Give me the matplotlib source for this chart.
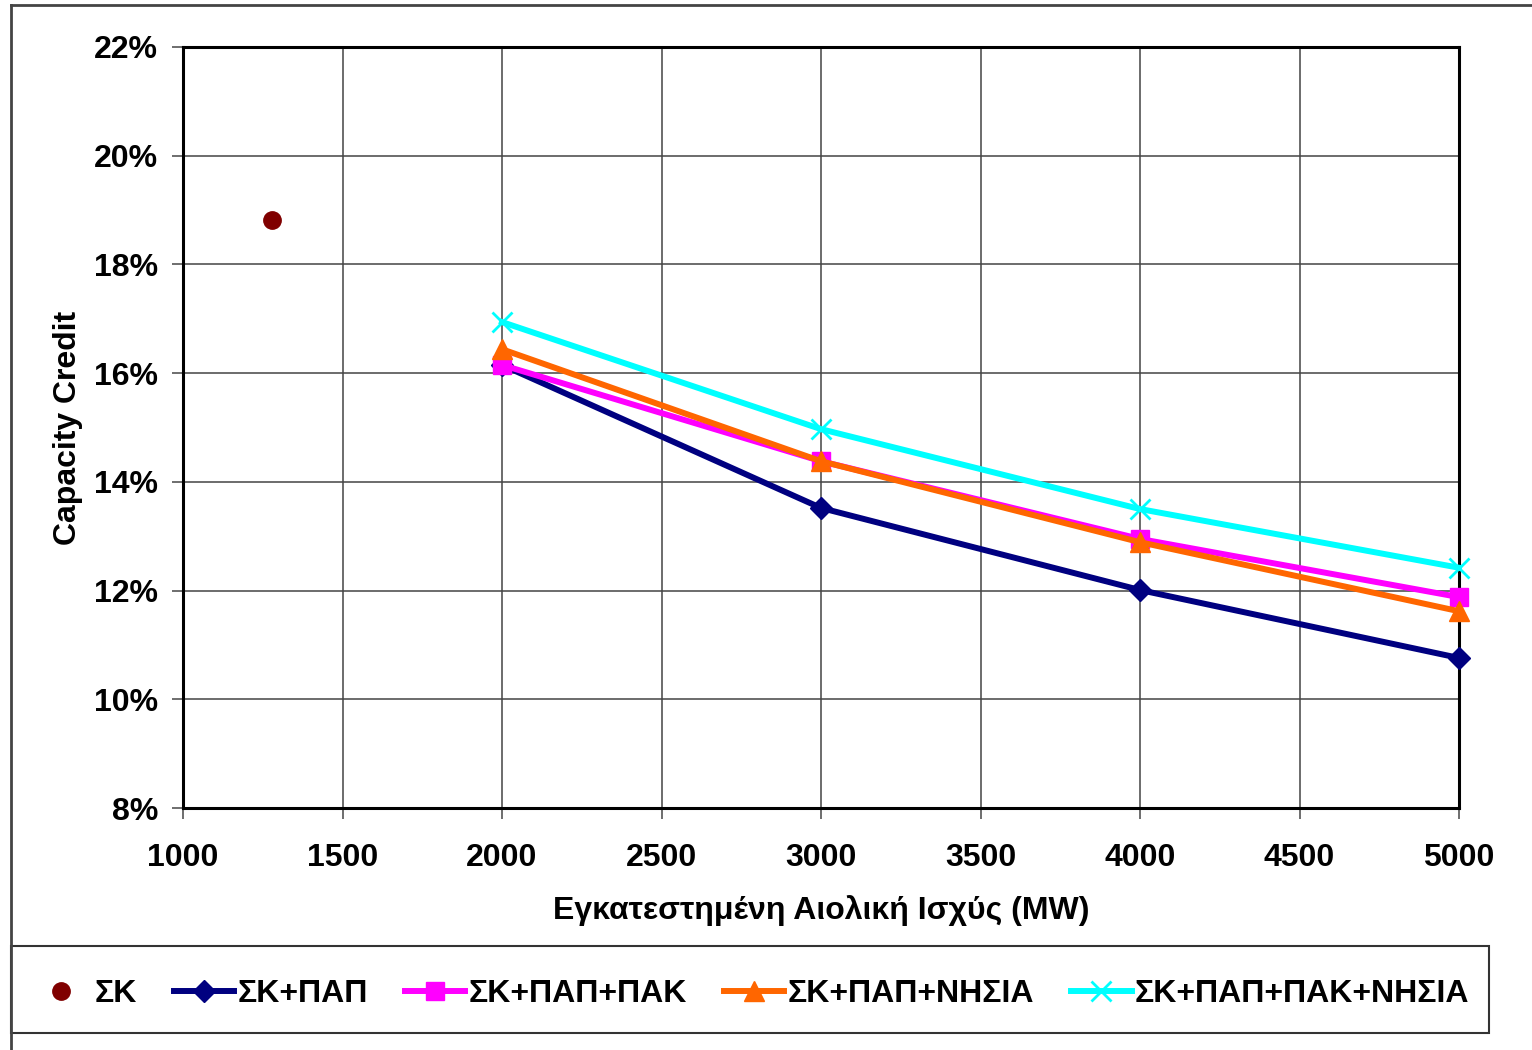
import matplotlib.pyplot as plt
from matplotlib.patches import Rectangle
from matplotlib.lines import Line2D

plt.rcParams['font.family'] = ['Liberation Sans', 'DejaVu Sans']
plt.rcParams['font.weight'] = 'bold'

# Δεδομένα
isxys = [2000, 3000, 4000, 5000]
sk_x = [1280]
sk_y = [18.82]
sk_pap = [16.15, 13.52, 12.01, 10.76]
sk_pap_pak = [16.15, 14.38, 12.95, 11.88]
sk_pap_nisia = [16.44, 14.38, 12.89, 11.62]
sk_pap_pak_nisia = [16.94, 14.97, 13.50, 12.42]

onomata = ['ΣΚ', 'ΣΚ+ΠΑΠ', 'ΣΚ+ΠΑΠ+ΠΑΚ', 'ΣΚ+ΠΑΠ+ΝΗΣΙΑ', 'ΣΚ+ΠΑΠ+ΠΑΚ+ΝΗΣΙΑ']
xticks = [1000, 1500, 2000, 2500, 3000, 3500, 4000, 4500, 5000]
yticks = [8, 10, 12, 14, 16, 18, 20, 22]

fig = plt.figure(figsize=(15.32, 10.5), dpi=100)
ax = fig.add_axes([183/1532, 1 - 808/1050, (1459-183)/1532, (808-47)/1050])

lw = 4.3
ax.plot(sk_x, sk_y, linestyle='none', marker='o', markersize=12.5,
        color='#800000', label=onomata[0], clip_on=False, zorder=5)
ax.plot(isxys, sk_pap, color='#000080', lw=lw, marker='D', markersize=11,
        label=onomata[1], clip_on=False, zorder=5)
ax.plot(isxys, sk_pap_pak, color='#FF00FF', lw=lw, marker='s', markersize=13,
        label=onomata[2], clip_on=False, zorder=5)
ax.plot(isxys, sk_pap_nisia, color='#FF6600', lw=lw, marker='^', markersize=14,
        label=onomata[3], clip_on=False, zorder=5)
ax.plot(isxys, sk_pap_pak_nisia, color='#00FFFF', lw=lw, marker='x', markersize=14,
        markeredgewidth=2, label=onomata[4], clip_on=False, zorder=5)

ax.set_xlim(1000, 5000)
ax.set_ylim(8, 22)
ax.set_xticks(xticks)
ax.set_yticks(yticks)
ax.set_yticklabels([f'{v}%' for v in yticks])
ax.tick_params(axis='both', labelsize=23, length=8, width=1.2, color='#555555')
ax.tick_params(axis='x', pad=17)
ax.tick_params(axis='y', pad=10)
ax.grid(True, color='#444444', linewidth=1.1)
ax.set_axisbelow(True)
for s in ax.spines.values():
    s.set_linewidth(2.2)
    s.set_color('black')

ax.set_xlabel('Εγκατεστημένη Αιολική Ισχύς (MW)', fontsize=23, fontweight='bold', labelpad=16)
ax.set_ylabel('Capacity Credit', fontsize=23, fontweight='bold', labelpad=8)

# πλαίσιο γραφήματος
fig.add_artist(Line2D([11/1532, 1.0], [1 - 5/1050, 1 - 5/1050], transform=fig.transFigure,
                      color='#444444', lw=2))
fig.add_artist(Line2D([11/1532, 11/1532], [0, 1 - 5/1050], transform=fig.transFigure,
                      color='#444444', lw=2))
fig.add_artist(Rectangle((11/1532, 1 - 1033/1050), (1489-11)/1532, (1033-946)/1050,
                         transform=fig.transFigure, fill=False, edgecolor='#333333', lw=1.5))

handles, labels = ax.get_legend_handles_labels()
fig.legend(handles, labels, loc='center', ncol=5,
           bbox_to_anchor=(750/1532, 1 - 994/1050),
           frameon=False, handlelength=1.9, handletextpad=0.1,
           columnspacing=1.15, prop={'weight': 'bold', 'size': 23})

fig.savefig('out.png', dpi=100)
